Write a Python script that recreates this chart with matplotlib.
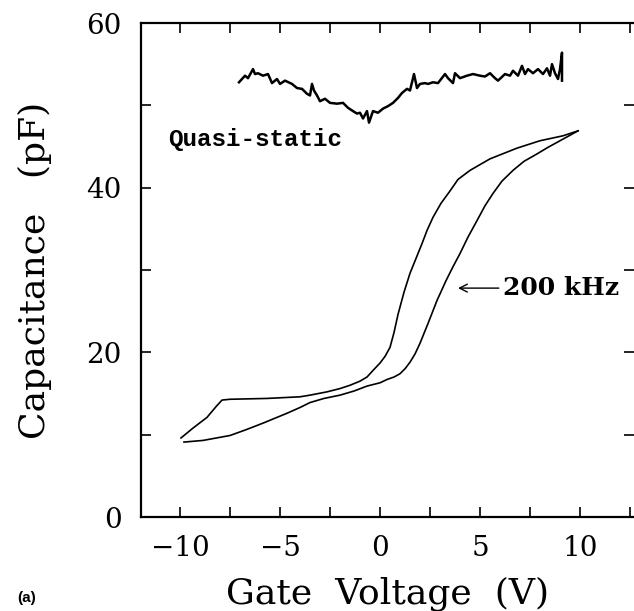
import matplotlib
matplotlib.use("Agg")
import matplotlib.pyplot as plt
from matplotlib.ticker import MultipleLocator

# quasi-static trace (V, pF)
qs_v = [-7.05, -6.75, -6.6, -6.35, -6.25, -6.1, -5.85, -5.6, -5.4, -5.15,
        -5.0, -4.75, -4.4, -4.15, -3.9, -3.65, -3.5, -3.4, -3.3, -3.15,
        -3.0, -2.75, -2.5, -2.15, -1.85, -1.6, -1.35, -1.15, -1.0, -0.85,
        -0.65, -0.55, -0.35, -0.1, 0.15, 0.4, 0.65, 0.9, 1.1, 1.35,
        1.5, 1.7, 1.85, 2.0, 2.25, 2.4, 2.65, 2.9, 3.25, 3.4,
        3.65, 3.75, 4.0, 4.35, 4.65, 5.0, 5.25, 5.5, 5.75, 5.9,
        6.25, 6.5, 6.65, 6.9, 7.1, 7.25, 7.4, 7.65, 7.9, 8.15,
        8.35, 8.5, 8.6, 8.75, 8.9, 9.0, 9.1, 9.1]
qs_c = [52.8, 53.6, 53.3, 54.4, 53.8, 53.9, 53.6, 53.8, 52.7, 53.2,
        52.6, 53.0, 52.6, 52.1, 52.0, 51.4, 51.2, 52.6, 51.8, 51.2,
        50.5, 50.8, 50.3, 50.2, 50.3, 49.7, 49.3, 49.0, 49.1, 48.4,
        49.3, 47.9, 49.3, 49.1, 49.6, 49.9, 50.3, 50.9, 51.5, 52.0,
        51.8, 53.8, 52.1, 52.6, 52.7, 52.6, 52.8, 52.7, 53.8, 53.3,
        52.7, 53.9, 53.3, 53.6, 53.8, 53.6, 53.5, 53.9, 53.3, 53.0,
        53.8, 53.6, 54.2, 53.6, 54.8, 53.8, 54.4, 53.9, 54.4, 53.8,
        54.5, 53.6, 55.0, 53.9, 53.2, 54.4, 56.4, 53.0]

# 200 kHz C-V, sweep down (left branch)
hf_down_v = [9.9, 9.15, 8.0, 6.85, 5.5, 4.5, 3.9, 3.5, 3.05, 2.65,
             2.35, 2.1, 1.8, 1.5, 1.2, 0.9, 0.7, 0.5, 0.25, 0.0,
             -0.35, -0.65, -1.0, -1.5, -2.0, -2.65, -3.5, -4.0, -5.65, -7.5,
             -7.9, -8.2, -8.65, -9.35, -9.95]
hf_down_c = [46.9, 46.3, 45.7, 44.8, 43.5, 42.1, 41.0, 39.6, 38.1, 36.4,
             34.8, 33.2, 31.4, 29.6, 27.3, 24.6, 22.4, 20.6, 19.5, 18.7,
             17.8, 17.0, 16.5, 16.0, 15.6, 15.2, 14.8, 14.6, 14.4, 14.3,
             14.2, 13.4, 12.1, 10.8, 9.6]

# 200 kHz C-V, sweep up (right branch)
hf_up_v = [-9.8, -8.85, -7.5, -6.7, -5.85, -4.65, -4.0, -3.5, -2.8, -2.0,
           -1.3, -0.65, 0.0, 0.35, 0.7, 1.0, 1.25, 1.5, 1.75, 2.0,
           2.4, 2.85, 3.3, 3.65, 4.0, 4.4, 4.85, 5.25, 5.65, 6.1,
           6.65, 7.2, 7.85, 8.4, 9.0, 9.9]
hf_up_c = [9.1, 9.3, 9.9, 10.6, 11.4, 12.6, 13.3, 13.9, 14.4, 14.8,
           15.3, 15.9, 16.3, 16.7, 17.0, 17.4, 18.0, 18.8, 19.8, 21.1,
           23.5, 26.3, 28.7, 30.4, 32.0, 34.0, 36.0, 37.8, 39.3, 40.8,
           42.1, 43.2, 44.1, 44.9, 45.7, 46.9]

x_ticks = [-10, -5, 0, 5, 10]
y_ticks = [0, 20, 40, 60]

serif = "DejaVu Serif"

fig = plt.figure(figsize=(6.34, 6.11), dpi=100)
ax = fig.add_axes([141 / 634, 94 / 611, 493 / 634, 494 / 611])

ax.plot(qs_v, qs_c, color="black", lw=1.8)
ax.plot(hf_down_v, hf_down_c, color="black", lw=1.2)
ax.plot(hf_up_v, hf_up_c, color="black", lw=1.2)

ax.set_xlim(-11.95, 12.7)
ax.set_ylim(0, 60)

ax.set_xticks(x_ticks)
ax.set_yticks(y_ticks)
ax.xaxis.set_minor_locator(MultipleLocator(2.5))
ax.yaxis.set_minor_locator(MultipleLocator(10))
ax.set_xticklabels([str(x).replace("-", "\u2212") for x in x_ticks], fontsize=20, family=serif)
ax.set_yticklabels([str(y) for y in y_ticks], fontsize=20, family=serif)

ax.tick_params(which="both", direction="in", length=7, width=1.2,
               top=True, right=True, bottom=True, left=True)
ax.tick_params(axis="x", which="major", pad=13)
ax.tick_params(axis="y", which="major", pad=14)

for s in ["left", "bottom", "top"]:
    ax.spines[s].set_linewidth(1.6)
ax.spines["right"].set_visible(False)

ax.set_xlabel("Gate  Voltage  (V)", fontsize=26, family=serif)
ax.set_ylabel("Capacitance   (pF)", fontsize=26, family=serif)
ax.xaxis.set_label_coords(0.5, -0.12)
ax.yaxis.set_label_coords(-0.18, 0.5)
ax.xaxis.label.set_va("top")

ax.text(-10.6, 45.8, "Quasi-static", fontsize=17.5, family="Liberation Mono",
        fontweight="bold", ha="left", va="center")
ax.annotate("200 kHz", xy=(3.9, 27.8), xytext=(6.15, 27.8),
            fontsize=18, family=serif, fontweight="bold", ha="left", va="center",
            arrowprops=dict(arrowstyle="->", color="black", lw=1.0,
                            shrinkA=1, shrinkB=0, mutation_scale=14))

fig.text(17 / 634, 1 - 598 / 611, "(a)", fontsize=11, family="Liberation Sans",
         fontweight="bold", ha="left", va="center")

fig.savefig("out.png", dpi=100)
